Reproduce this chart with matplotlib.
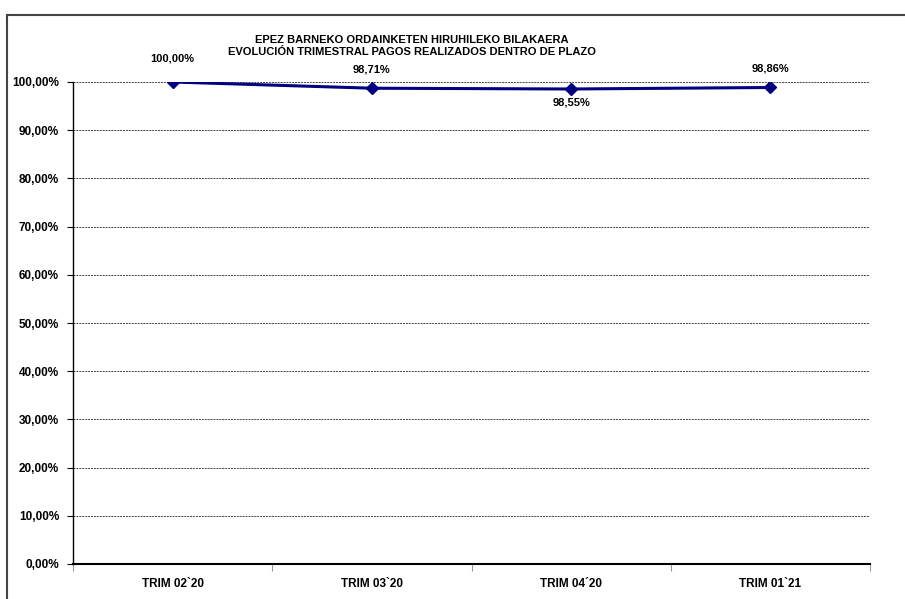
import numpy as np
import matplotlib.pyplot as plt
from matplotlib.lines import Line2D

categories = ["TRIM 02`20", "TRIM 03`20", "TRIM 04´20", "TRIM 01`21"]
values = [100.00, 98.71, 98.55, 98.86]
labels = ["100,00%", "98,71%", "98,55%", "98,86%"]
label_above = [True, True, False, True]

plt.rcParams['font.family'] = ['Liberation Sans', 'DejaVu Sans']
plt.rcParams['font.weight'] = 'bold'

fig = plt.figure(figsize=(9.05, 5.99), dpi=100)
ax = fig.add_axes([73 / 905, 1 - 564 / 599, 797 / 905, 482 / 599])

x = np.arange(len(categories))
ax.plot(x, values, color='#000080', linewidth=2.2, marker='D', markersize=6,
        zorder=3)

# data labels
for xi, v, lab, up in zip(x, values, labels, label_above):
    if up:
        off = 13 if xi == 0 else 10
        ax.annotate(lab, (xi, v), xytext=(0, off), textcoords='offset points',
                    ha='center', va='bottom', fontsize=8, fontweight='bold')
    else:
        ax.annotate(lab, (xi, v), xytext=(0, -6), textcoords='offset points',
                    ha='center', va='top', fontsize=8, fontweight='bold')

ax.set_xlim(-0.5, len(categories) - 0.5)
ax.set_ylim(0, 100)
ax.set_yticks(np.arange(0, 101, 10))
ax.set_yticklabels([f"{v:.2f}%".replace('.', ',') for v in np.arange(0, 101, 10)],
                   fontsize=8.5, fontweight='bold')
ax.set_xticks(x)
ax.set_xticklabels(categories, fontsize=8.5, fontweight='bold')
ax.tick_params(axis='x', length=0, pad=10)
ax.tick_params(axis='y', length=4, width=0.8, direction='out', pad=6)

# category separator ticks
ax.set_xticks(np.arange(-0.5, len(categories), 1), minor=True)
ax.tick_params(axis='x', which='minor', length=5, color='#999999', width=0.8)

ax.grid(axis='y', linestyle=(0, (2, 1)), color='#444444', linewidth=0.7)
ax.set_axisbelow(True)
for s in ['top', 'right']:
    ax.spines[s].set_visible(False)
ax.spines['left'].set_linewidth(1.0)
ax.spines['bottom'].set_linewidth(1.5)

fig.text(412 / 905, 1 - 40 / 599, "EPEZ BARNEKO ORDAINKETEN HIRUHILEKO BILAKAERA",
         ha='center', va='center', fontsize=8, fontweight='bold')
fig.text(412 / 905, 1 - 52 / 599, "EVOLUCIÓN TRIMESTRAL PAGOS REALIZADOS DENTRO DE PLAZO",
         ha='center', va='center', fontsize=8, fontweight='bold')

# outer chart frame (top and left edges)
fig.add_artist(Line2D([7 / 905, 1], [1 - 15 / 599, 1 - 15 / 599],
                      transform=fig.transFigure, color='#444444', linewidth=1.5))
fig.add_artist(Line2D([7 / 905, 7 / 905], [0, 1 - 15 / 599],
                      transform=fig.transFigure, color='#444444', linewidth=1.5))

fig.savefig('out.png', dpi=100)
